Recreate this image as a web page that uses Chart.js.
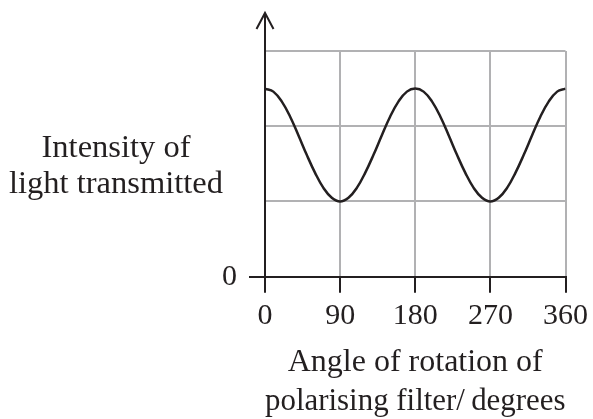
<!DOCTYPE html>
<html lang="en">
<head>
    <meta charset="UTF-8">
    <title>Intensity of light transmitted vs angle</title>
    <script src="https://cdn.jsdelivr.net/npm/chart.js@4.4.1/dist/chart.umd.min.js"></script>
    <style>
        html, body { margin: 0; padding: 0; background: #fff; }
        #wrap { width: 593px; height: 419px; }
    </style>
</head>
<body>
    <div id="wrap"><canvas id="polarChart"></canvas></div>
    <script>
    // Angles (degrees) and intensity (grid units)
    const angles = [0, 10, 20, 30, 40, 50, 60, 70, 80, 90,
                    100, 110, 120, 130, 140, 150, 160, 170, 180,
                    190, 200, 210, 220, 230, 240, 250, 260, 270,
                    280, 290, 300, 310, 320, 330, 340, 350, 360];
    const intensity = [2.5, 2.46, 2.33, 2.13, 1.88, 1.62, 1.38, 1.18, 1.05, 1.0,
                       1.05, 1.18, 1.38, 1.62, 1.88, 2.13, 2.33, 2.46, 2.5,
                       2.46, 2.33, 2.13, 1.88, 1.62, 1.38, 1.18, 1.05, 1.0,
                       1.05, 1.18, 1.38, 1.62, 1.88, 2.13, 2.33, 2.46, 2.5];
    const xTicks = [0, 90, 180, 270, 360];
    const yTicks = [0, 1, 2, 3];
    const yTitle = ['Intensity of', 'light transmitted'];
    const xTitle = ['Angle of rotation of', 'polarising filter/\u2009degrees'];

    const ink = '#231f20';
    const gridGrey = '#b1b1b3';
    const serif = 'Liberation Serif, Times New Roman, serif';

    // y axis arrow above the grid and the horizontal y title
    const extras = {
        id: 'extras',
        afterDraw(chart) {
            const c = chart.ctx;
            const x = chart.scales.x.getPixelForValue(0);
            const top = chart.chartArea.top;
            c.save();
            c.strokeStyle = ink;
            c.lineWidth = 2;
            c.beginPath();
            c.moveTo(x, top);
            c.lineTo(x, 13);
            c.stroke();
            c.beginPath();
            c.moveTo(x - 8.5, 29);
            c.lineTo(x, 13);
            c.lineTo(x + 8.5, 29);
            c.stroke();
            c.fillStyle = ink;
            c.font = '32.5px ' + serif;
            c.textAlign = 'center';
            c.textBaseline = 'alphabetic';
            c.fillText(yTitle[0], 116, 157);
            c.fillText(yTitle[1], 116, 193);
            c.restore();
        }
    };

    new Chart(document.getElementById('polarChart'), {
        type: 'line',
        data: {
            datasets: [{
                data: angles.map((a, i) => ({ x: a, y: intensity[i] })),
                borderColor: ink,
                borderWidth: 2.5,
                pointRadius: 0,
                fill: false,
                tension: 0.4
            }]
        },
        options: {
            responsive: true,
            maintainAspectRatio: false,
            animation: false,
            layout: { padding: { top: 51, right: 25, left: 0, bottom: 0 } },
            plugins: { legend: { display: false }, tooltip: { enabled: false } },
            scales: {
                x: {
                    type: 'linear',
                    min: 0,
                    max: 360,
                    afterBuildTicks: s => { s.ticks = xTicks.map(v => ({ value: v })); },
                    afterFit: s => { s.height = 142.3; },
                    border: { color: ink, width: 2 },
                    grid: {
                        color: ctx => ctx.tick && ctx.tick.value === 0 ? 'rgba(0,0,0,0)' : gridGrey,
                        lineWidth: 2,
                        tickColor: ink,
                        tickLength: 16,
                        tickWidth: 2
                    },
                    ticks: {
                        color: ink,
                        font: { family: serif, size: 30 },
                        padding: 5,
                        maxRotation: 0
                    },
                    title: {
                        display: true,
                        text: xTitle,
                        color: ink,
                        font: { family: serif, size: 32, lineHeight: 1.22 },
                        padding: { top: 0, bottom: -2 }
                    }
                },
                y: {
                    min: 0,
                    max: 3,
                    afterBuildTicks: s => { s.ticks = yTicks.map(v => ({ value: v })); },
                    afterFit: s => { s.width = 265; },
                    border: { color: ink, width: 2 },
                    grid: {
                        color: ctx => ctx.tick && ctx.tick.value === 0 ? 'rgba(0,0,0,0)' : gridGrey,
                        lineWidth: 2,
                        tickColor: ctx => ctx.tick && ctx.tick.value === 0 ? ink : 'rgba(0,0,0,0)',
                        tickLength: 16,
                        tickWidth: 2
                    },
                    ticks: {
                        color: ink,
                        font: { family: serif, size: 30 },
                        padding: 12,
                        callback: v => v === 0 ? '0' : ''
                    }
                }
            }
        },
        plugins: [extras]
    });
    </script>
</body>
</html>
